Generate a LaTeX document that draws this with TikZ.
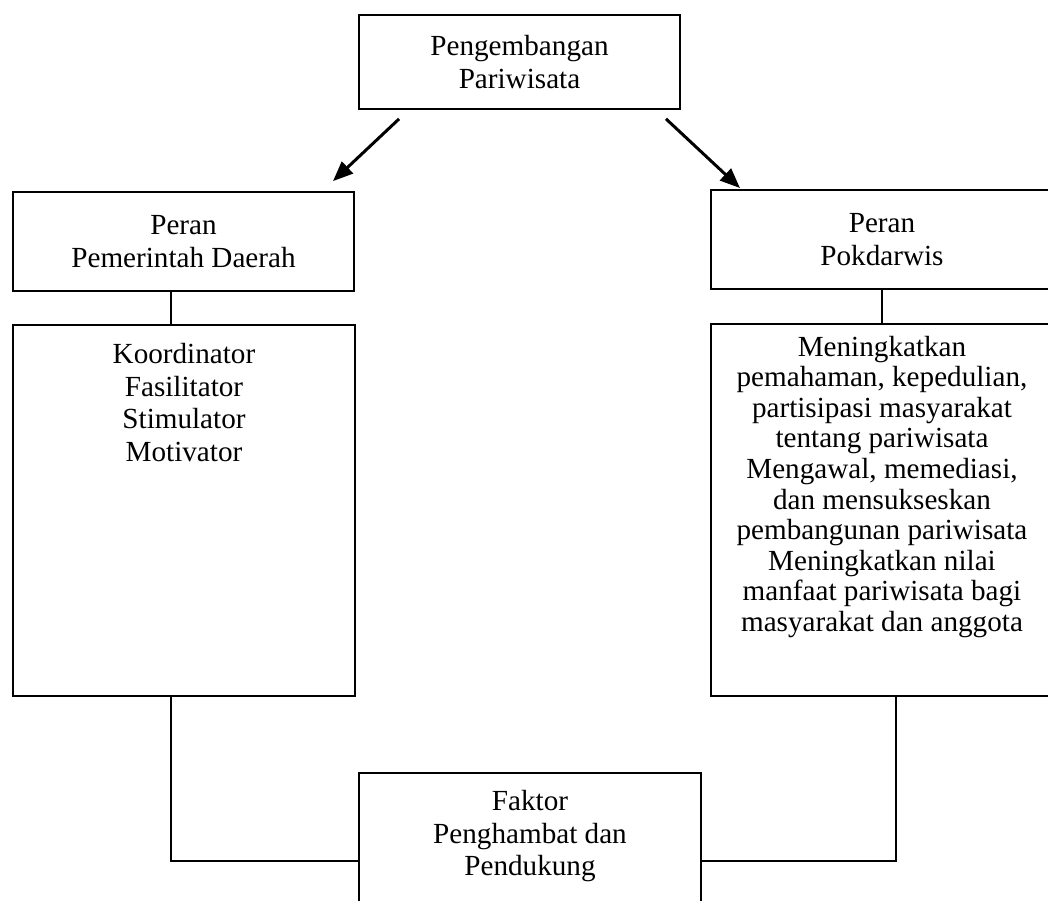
\documentclass[tikz,border=0pt]{standalone}
\usepackage{fontspec}
\setmainfont{Liberation Serif}
\usepackage{tikz}
\usetikzlibrary{arrows.meta, positioning}

% bloc de texte aligne en haut d'un cadre : hauteur, largeur, interligne, espace, texte
\newcommand{\bloctexte}[5]{\parbox[c][#1][t]{#2}{\fontsize{16.6}{#3}\selectfont\centering\vspace*{#4}#5}}

\begin{document}
\begin{tikzpicture}[x=0.02cm, y=-0.02cm,
    cadre/.style={draw, line width=1.1pt, inner sep=0pt},
    police/.style={font=\fontsize{16.6}{18.4}\selectfont, align=center},
    fleche/.style={line width=1.7pt, -{Triangle[length=0.4cm,width=0.32cm]}},
    trait/.style={line width=1.1pt}]
        \useasboundingbox (0,0) rectangle (1048,900);
        \clip (0,0) rectangle (1048,900);
        % Cadre du haut
        \node[cadre, police, minimum width=6.42cm, minimum height=1.88cm] (pariwisata) at (519.5,62) {Pengembangan\\Pariwisata};
        % Les deux roles
        \node[cadre, police, minimum width=6.82cm, minimum height=1.98cm] (pemda) at (183.5,241.5) {Peran\\Pemerintah Daerah};
        \node[cadre, police, minimum width=6.84cm, minimum height=1.98cm] (pokdarwis) at (882,239.5) {Peran\\Pokdarwis};
        % Les taches
        \node[cadre, minimum width=6.84cm, minimum height=7.42cm] (tugaspemda) at (184,510.5)
            {\bloctexte{7.42cm}{6.84cm}{18.7pt}{0.36cm}{Koordinator\\Fasilitator\\Stimulator\\Motivator}};
        \node[cadre, minimum width=6.84cm, minimum height=7.44cm] (tugaspokdarwis) at (882,510)
            {\bloctexte{7.44cm}{6.84cm}{17.4pt}{0.24cm}{Meningkatkan\\pemahaman, kepedulian,\\partisipasi masyarakat\\tentang pariwisata\\Mengawal, memediasi,\\dan mensukseskan\\pembangunan pariwisata\\Meningkatkan nilai\\manfaat pariwisata bagi\\masyarakat dan anggota}};
        % Cadre du bas
        \node[cadre, minimum width=6.84cm, minimum height=3.52cm] (faktor) at (530,861)
            {\bloctexte{3.52cm}{6.84cm}{18.7pt}{0.34cm}{Faktor\\Penghambat dan\\Pendukung}};
        % Fleches
        \draw[fleche, shorten <=0.26cm, shorten >=0.29cm] ([xshift=1.01cm]pariwisata.south west) -- ([xshift=-0.65cm]pemda.north east);
        \draw[fleche, shorten <=0.26cm, shorten >=0.03cm] ([xshift=-0.49cm]pariwisata.south east) -- ([xshift=0.62cm]pokdarwis.north west);
        % Traits de liaison
        \draw[trait] ([xshift=-0.25cm]pemda.south) -- ([xshift=-0.25cm]pemda.south |- tugaspemda.north);
        \draw[trait] (pokdarwis.south) -- (pokdarwis.south |- tugaspokdarwis.north);
        \draw[trait] ([xshift=-0.26cm]tugaspemda.south) |- (faktor.west);
        \draw[trait] ([xshift=0.28cm]tugaspokdarwis.south) |- (faktor.east);
    \end{tikzpicture}
\end{document}
